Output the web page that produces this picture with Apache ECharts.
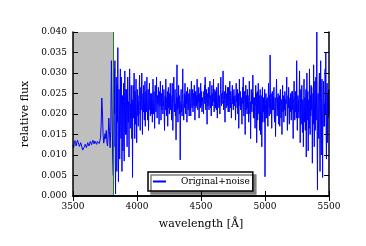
<!DOCTYPE html>
<html>
<head>
<meta charset="utf-8">
<script src="https://cdn.jsdelivr.net/npm/echarts@6/dist/echarts.min.js"></script>
<style>
html,body{margin:0;padding:0;background:#fff;}
#c{width:366px;height:246px;}
</style>
</head>
<body>
<div id="c"></div>
<script>
// wavelength grids (Angstrom): start and sampling step of each part
const maskedStart = 3500, maskedStep = 5;
const noisyStart = 3815, noisyStep = 2.5;
const xTicks = [3500, 4000, 4500, 5000, 5500];
const yTicks = [0.000, 0.005, 0.010, 0.015, 0.020, 0.025, 0.030, 0.035, 0.040];
const cutoffWl = 3814;
const seriesName = 'Original+noise';

// 3500-3810 A (masked, low-noise part)
const fluxMasked = [
0.0125,0.0118,0.0130,0.0135,0.0128,0.0122,0.0131,0.0136,0.0133,0.0126,
0.0121,0.0124,0.0130,0.0127,0.0119,0.0112,0.0108,0.0115,0.0121,0.0126,
0.0123,0.0118,0.0124,0.0130,0.0127,0.0122,0.0128,0.0133,0.0129,0.0125,
0.0131,0.0136,0.0132,0.0127,0.0134,0.0138,0.0131,0.0126,0.0133,0.0137,
0.0130,0.0128,0.0135,0.0142,0.0175,0.0239,0.0205,0.0150,0.0129,0.0138,
0.0152,0.0140,0.0160,0.0131,0.0122,0.0150,0.0190,0.0158,0.0118,0.0160,
0.0330,0.0220,0.0095
];
// 3815-5500 A (noisy part), 20 values per 50 A
const fluxNoisy = [
0.0050,0.0240,0.0120,0.0310,0.0200,0.0330,0.0080,0.0005,0.0150,0.0290,0.0210,0.0060,0.0270,0.0180,0.0362,0.0220,0.0035,0.0140,0.0260,0.0190,
0.0090,0.0230,0.0310,0.0170,0.0140,0.0290,0.0220,0.0060,0.0180,0.0245,0.0110,0.0200,0.0275,0.0160,0.0085,0.0230,0.0305,0.0190,0.0150,0.0260,
0.0150,0.0220,0.0260,0.0120,0.0200,0.0290,0.0240,0.0180,0.0230,0.0095,0.0210,0.0310,0.0250,0.0165,0.0225,0.0190,0.0270,0.0205,0.0140,0.0235,
0.0045,0.0200,0.0270,0.0190,0.0230,0.0300,0.0215,0.0140,0.0255,0.0175,0.0240,0.0285,0.0205,0.0130,0.0225,0.0260,0.0195,0.0245,0.0170,0.0230,
0.0200,0.0260,0.0295,0.0215,0.0160,0.0235,0.0265,0.0210,0.0245,0.0300,0.0225,0.0150,0.0230,0.0250,0.0205,0.0270,0.0225,0.0185,0.0240,0.0280,
0.0170,0.0225,0.0255,0.0205,0.0240,0.0290,0.0215,0.0185,0.0230,0.0260,0.0160,0.0220,0.0245,0.0275,0.0210,0.0235,0.0195,0.0250,0.0225,0.0200,
0.0250,0.0215,0.0180,0.0240,0.0285,0.0225,0.0200,0.0255,0.0235,0.0165,0.0220,0.0270,0.0240,0.0205,0.0230,0.0290,0.0215,0.0190,0.0245,0.0225,
0.0230,0.0265,0.0210,0.0175,0.0235,0.0255,0.0220,0.0280,0.0240,0.0185,0.0225,0.0250,0.0210,0.0245,0.0270,0.0200,0.0230,0.0220,0.0260,0.0195,
0.0160,0.0225,0.0245,0.0210,0.0285,0.0235,0.0195,0.0240,0.0220,0.0255,0.0170,0.0230,0.0265,0.0215,0.0240,0.0200,0.0250,0.0225,0.0275,0.0210,
0.0245,0.0220,0.0185,0.0235,0.0275,0.0225,0.0160,0.0215,0.0250,0.0290,0.0230,0.0205,0.0240,0.0260,0.0195,0.0225,0.0137,0.0210,0.0255,0.0320,
0.0210,0.0240,0.0180,0.0225,0.0270,0.0215,0.0245,0.0200,0.0230,0.0088,0.0190,0.0240,0.0260,0.0205,0.0225,0.0195,0.0250,0.0310,0.0235,0.0215,
0.0185,0.0230,0.0250,0.0215,0.0275,0.0235,0.0200,0.0245,0.0225,0.0255,0.0180,0.0220,0.0265,0.0240,0.0210,0.0235,0.0250,0.0195,0.0230,0.0260,
0.0250,0.0225,0.0195,0.0240,0.0280,0.0230,0.0215,0.0245,0.0260,0.0205,0.0235,0.0250,0.0220,0.0270,0.0240,0.0185,0.0230,0.0255,0.0215,0.0245,
0.0220,0.0260,0.0285,0.0235,0.0210,0.0245,0.0230,0.0265,0.0190,0.0225,0.0250,0.0240,0.0215,0.0275,0.0235,0.0220,0.0255,0.0205,0.0240,0.0230,
0.0240,0.0215,0.0200,0.0255,0.0235,0.0270,0.0225,0.0290,0.0245,0.0210,0.0235,0.0260,0.0225,0.0175,0.0240,0.0250,0.0220,0.0265,0.0235,0.0210,
0.0230,0.0255,0.0280,0.0225,0.0215,0.0245,0.0195,0.0235,0.0270,0.0240,0.0220,0.0250,0.0230,0.0285,0.0240,0.0205,0.0225,0.0260,0.0245,0.0215,
0.0255,0.0235,0.0210,0.0265,0.0240,0.0190,0.0230,0.0250,0.0275,0.0225,0.0215,0.0245,0.0235,0.0200,0.0240,0.0260,0.0290,0.0230,0.0220,0.0250,
0.0225,0.0245,0.0260,0.0305,0.0235,0.0210,0.0240,0.0255,0.0225,0.0180,0.0235,0.0270,0.0245,0.0215,0.0250,0.0230,0.0220,0.0265,0.0240,0.0205,
0.0265,0.0230,0.0205,0.0245,0.0280,0.0235,0.0215,0.0255,0.0240,0.0190,0.0230,0.0250,0.0270,0.0225,0.0240,0.0210,0.0245,0.0260,0.0235,0.0220,
0.0245,0.0220,0.0185,0.0240,0.0275,0.0230,0.0250,0.0215,0.0260,0.0200,0.0235,0.0250,0.0165,0.0225,0.0285,0.0240,0.0220,0.0255,0.0210,0.0235,
0.0240,0.0210,0.0175,0.0235,0.0265,0.0225,0.0290,0.0215,0.0195,0.0240,0.0255,0.0225,0.0150,0.0230,0.0270,0.0210,0.0245,0.0225,0.0200,0.0260,
0.0215,0.0245,0.0230,0.0180,0.0225,0.0280,0.0240,0.0200,0.0230,0.0140,0.0215,0.0260,0.0235,0.0205,0.0250,0.0225,0.0295,0.0230,0.0190,0.0240,
0.0190,0.0240,0.0215,0.0165,0.0230,0.0270,0.0220,0.0250,0.0130,0.0210,0.0255,0.0185,0.0235,0.0275,0.0220,0.0200,0.0245,0.0160,0.0225,0.0260,
0.0150,0.0220,0.0245,0.0200,0.0120,0.0235,0.0265,0.0180,0.0215,0.0240,0.0205,0.0230,0.0180,0.0260,0.0047,0.0200,0.0225,0.0250,0.0190,0.0235,
0.0190,0.0240,0.0215,0.0170,0.0230,0.0275,0.0225,0.0195,0.0245,0.0215,0.0344,0.0230,0.0200,0.0250,0.0220,0.0165,0.0230,0.0255,0.0210,0.0235,
0.0210,0.0245,0.0265,0.0195,0.0180,0.0225,0.0240,0.0145,0.0215,0.0250,0.0285,0.0225,0.0195,0.0240,0.0210,0.0250,0.0230,0.0175,0.0220,0.0245,
0.0170,0.0225,0.0260,0.0215,0.0190,0.0235,0.0220,0.0150,0.0230,0.0270,0.0205,0.0245,0.0225,0.0180,0.0240,0.0210,0.0255,0.0225,0.0195,0.0235,
0.0225,0.0260,0.0290,0.0210,0.0160,0.0230,0.0245,0.0215,0.0265,0.0200,0.0175,0.0225,0.0240,0.0205,0.0250,0.0230,0.0185,0.0220,0.0255,0.0210,
0.0255,0.0215,0.0140,0.0225,0.0245,0.0280,0.0210,0.0185,0.0235,0.0255,0.0205,0.0225,0.0190,0.0330,0.0230,0.0160,0.0215,0.0245,0.0205,0.0235,
0.0190,0.0250,0.0305,0.0215,0.0130,0.0225,0.0260,0.0175,0.0230,0.0270,0.0200,0.0155,0.0235,0.0210,0.0120,0.0245,0.0285,0.0205,0.0180,0.0240,
0.0160,0.0225,0.0260,0.0095,0.0210,0.0300,0.0185,0.0240,0.0255,0.0110,0.0200,0.0235,0.0165,0.0310,0.0220,0.0150,0.0245,0.0195,0.0270,0.0210,
0.0265,0.0190,0.0080,0.0225,0.0250,0.0175,0.0320,0.0210,0.0120,0.0235,0.0280,0.0160,0.0215,0.0290,0.0185,0.0245,0.0400,0.0130,0.0015,0.0220,
0.0250,0.0180,0.0140,0.0270,0.0300,0.0200,0.0060,0.0225,0.0330,0.0155,0.0100,0.0240,0.0285,0.0195,0.0045,0.0210,0.0260,0.0280,0.0170,0.0225,
0.0170,0.0240,0.0310,0.0200,0.0350,0.0160,0.0090,0.0230,0.0275,0.0130,0.0250,0.0190,0.0230,0.0260,0.0200
];

const seriesData = fluxMasked.map((f, i) => [maskedStart + i * maskedStep, f])
  .concat(fluxNoisy.map((f, i) => [noisyStart + i * noisyStep, f]));

const FONT = 'DejaVu Serif';
const frame = {show: true, lineStyle: {color: '#000', width: 1.5}};
const tickIn = {show: true, inside: true, length: 5, lineStyle: {color: '#000', width: 1}};

const xBase = {
  type: 'value', min: xTicks[0], max: xTicks[xTicks.length - 1], interval: 500,
  axisLine: frame, axisTick: tickIn, splitLine: {show: false}, z: 10
};
const yBase = {
  type: 'value', min: yTicks[0], max: yTicks[yTicks.length - 1], interval: 0.005,
  axisLine: frame, axisTick: tickIn, splitLine: {show: false}, z: 10
};

const chart = echarts.init(document.getElementById('c'), null, {renderer: 'canvas'});
chart.setOption({
  animation: false,
  backgroundColor: '#fff',
  grid: {left: 73, top: 32, right: 37, bottom: 50},
  legend: {
    show: true,
    data: [{name: seriesName, icon: 'rect', itemStyle: {color: '#0000ff', borderWidth: 0, opacity: 1}}],
    left: 148, top: 172,
    itemWidth: 13, itemHeight: 2,
    padding: [5, 3, 5, 5],
    borderColor: '#000', borderWidth: 1.5, borderRadius: 0,
    backgroundColor: '#fff',
    shadowColor: '#808080', shadowBlur: 0, shadowOffsetX: 3, shadowOffsetY: 3,
    itemStyle: {color: '#0000ff', borderWidth: 0, opacity: 1},
    lineStyle: {width: 0},
    textStyle: {fontFamily: FONT, fontSize: 9, color: '#000', padding: [0, 0, 0, 10]},
    selectedMode: false
  },
  xAxis: [
    Object.assign({}, xBase, {
      position: 'bottom',
      name: 'wavelength [Å]', nameLocation: 'middle', nameGap: 23,
      nameTextStyle: {fontFamily: FONT, fontSize: 11, color: '#000'},
      axisLabel: {show: true, margin: 6, fontFamily: FONT, fontSize: 9, color: '#000',
        formatter: v => String(v)}
    }),
    Object.assign({}, xBase, {position: 'top', axisLabel: {show: false}})
  ],
  yAxis: [
    Object.assign({}, yBase, {
      position: 'left',
      name: 'relative flux', nameLocation: 'middle', nameGap: 36,
      nameTextStyle: {fontFamily: FONT, fontSize: 11, color: '#000'},
      axisLabel: {show: true, margin: 6, fontFamily: FONT, fontSize: 9, color: '#000',
        formatter: v => v.toFixed(3)}
    }),
    Object.assign({}, yBase, {position: 'right', axisLabel: {show: false}})
  ],
  series: [{
    name: seriesName,
    type: 'line',
    xAxisIndex: 0, yAxisIndex: 0,
    data: seriesData,
    showSymbol: false, symbol: 'none',
    sampling: null,
    color: '#0000ff',
    lineStyle: {color: '#0000ff', width: 1},
    z: 3,
    markArea: {
      silent: true,
      itemStyle: {color: '#bfbfbf', opacity: 1},
      data: [[{xAxis: maskedStart}, {xAxis: cutoffWl}]]
    },
    markLine: {
      silent: true, symbol: 'none',
      label: {show: false},
      lineStyle: {color: '#2a7a2a', width: 1, type: 'solid'},
      data: [{xAxis: cutoffWl}]
    }
  }]
});
</script>
</body>
</html>
